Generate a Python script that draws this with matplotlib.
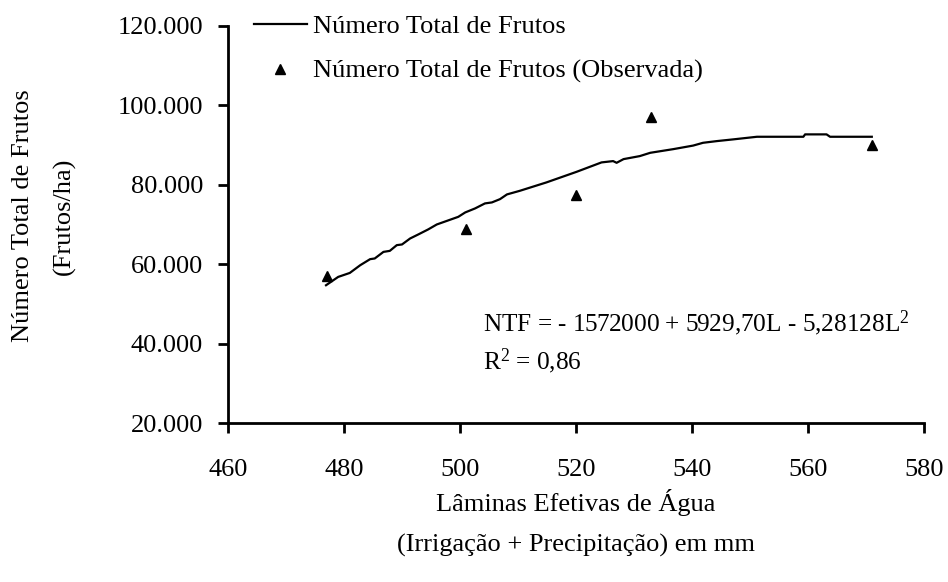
import matplotlib
matplotlib.use("Agg")
import matplotlib.pyplot as plt
from matplotlib.ticker import FuncFormatter

plt.rcParams['font.family'] = ['Liberation Serif', 'DejaVu Serif']
plt.rcParams['mathtext.fontset'] = 'custom'
plt.rcParams['mathtext.rm'] = 'Liberation Serif'
plt.rcParams['mathtext.it'] = 'Liberation Serif:italic'

# Observed data
obs_x = [477, 501, 520, 533, 571]
obs_y = [57000, 68800, 77400, 97100, 90000]

# Fitted curve as drawn
line_x = [476.9, 479.0, 481.0, 482.8, 484.5, 485.3, 486.8, 487.9, 489.1, 490.0,
          491.4, 492.8, 494.5, 496.0, 499.7, 500.9, 502.6, 504.3, 505.5, 506.9,
          508.1, 510.3, 514.9, 520.1, 524.4, 526.4, 527.0, 528.2, 531.0, 532.8,
          536.8, 540.2, 541.9, 544.3, 547.1, 551.2, 559.2, 559.5, 563.2, 563.8, 571.0]
line_y = [54700, 56800, 57800, 59750, 61270, 61440, 63100, 63360, 64800, 64970,
          66480, 67490, 68750, 70010, 71930, 73040, 74050, 75310, 75560, 76390,
          77580, 78480, 80600, 83270, 85640, 85970, 85540, 86470, 87230, 88060,
          88990, 89880, 90580, 91010, 91440, 92100, 92100, 92700, 92700, 92100, 92100]

x_ticks = [460, 480, 500, 520, 540, 560, 580]
y_ticks = [20000, 40000, 60000, 80000, 100000, 120000]

W, H = 948, 582
fig = plt.figure(figsize=(W / 100, H / 100), dpi=100)
ax = fig.add_axes([228 / W, 1 - 423 / H, (924 - 228) / W, (423 - 26) / H])

FS = 19
ax.plot(line_x, line_y, color='black', lw=1.6, label='Número Total de Frutos')
ax.plot(obs_x, obs_y, linestyle='none', marker='^', color='black', ms=6.5,
        label='Número Total de Frutos (Observada)')

ax.set_xlim(460, 580)
ax.set_ylim(20000, 120000)
ax.set_xticks(x_ticks)
ax.set_yticks(y_ticks)
ax.yaxis.set_major_formatter(FuncFormatter(lambda v, p: f"{int(v):,}".replace(',', '.')))
for s in ['top', 'right']:
    ax.spines[s].set_visible(False)
for s in ['left', 'bottom']:
    ax.spines[s].set_linewidth(2)
ax.tick_params(axis='both', direction='out', length=7, width=2, labelsize=FS, colors='black')
ax.tick_params(axis='x', pad=19)
ax.tick_params(axis='y', pad=11)

leg = ax.legend(loc='upper left', bbox_to_anchor=(254 / W, 1 - 15 / H),
                bbox_transform=fig.transFigure, frameon=False, fontsize=FS,
                handlelength=2.0, handletextpad=0.25, labelspacing=0.8,
                borderpad=0, borderaxespad=0)

fig.text(482.7 / W, 1 - 331 / H, 'NTF = - 1572000 + 5929,70L - 5,28128L$^{\\mathrm{2}}$',
         fontsize=18.2, ha='left', va='baseline')
fig.text(482.7 / W, 1 - 369 / H, 'R$^{\\mathrm{2}}$ = 0,86',
         fontsize=18.2, ha='left', va='baseline')

fig.text(576 / W, 1 - 502 / H, 'Lâminas Efetivas de Água', fontsize=FS, ha='center', va='center')
fig.text(576 / W, 1 - 545 / H, '(Irrigação + Precipitação) em mm', fontsize=FS, ha='center', va='center')
fig.text(23 / W, 1 - 216 / H, 'Número Total de Frutos', fontsize=FS, rotation=90, ha='center', va='center')
fig.text(64 / W, 1 - 216 / H, '(Frutos/ha)', fontsize=FS, rotation=90, ha='center', va='center')

fig.savefig('out.png', dpi=100)
